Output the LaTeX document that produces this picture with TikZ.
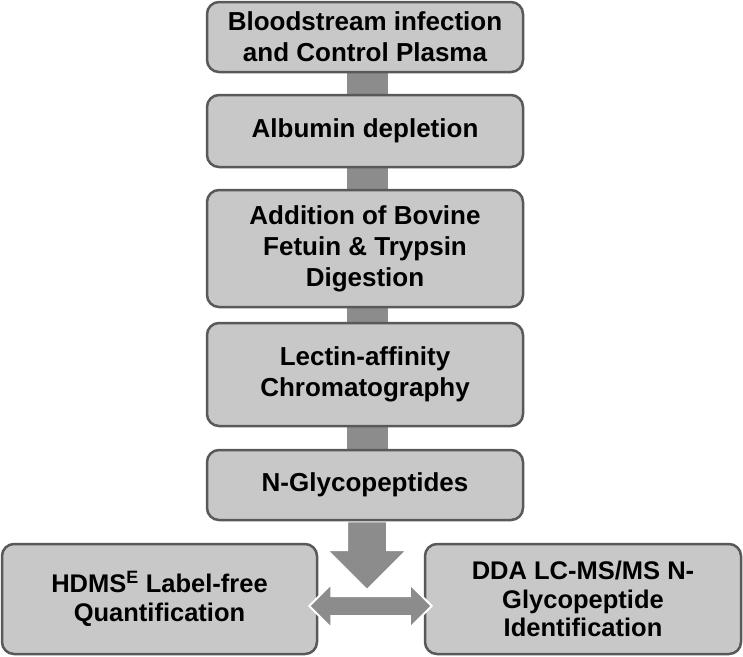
\documentclass[tikz,border=0pt]{standalone}
\usepackage{fontspec}
\setmainfont{Liberation Sans}
\usetikzlibrary{calc,
	positioning,
	backgrounds}
\definecolor{boxfill}{HTML}{C8C8C8}
\definecolor{boxline}{HTML}{595959}
\definecolor{flowgray}{HTML}{8C8C8C}

\begin{document}
\begin{tikzpicture}[x=1pt,y=-1pt,
	stage/.style={draw=boxline,fill=boxfill,line width=2.5pt,rounded corners=12pt,align=center,inner sep=0pt,minimum width=316pt,font=\fontsize{26}{31}\selectfont\bfseries},
	result/.style={stage,minimum height=110pt,font=\fontsize{25.5}{28.5}\selectfont\bfseries},
	bar/.style={flowgray,line width=41pt},
	flow/.style={fill=flowgray,draw=white,line width=2pt,line join=miter}]
	\useasboundingbox (0,0) rectangle (743,656);
	\node[stage,minimum height=70pt] (blood) at (365,37) {Bloodstream infection\\and Control Plasma};
	\node[stage,minimum height=72pt] (albumin) at (365,131) {Albumin depletion};
	\node[stage,minimum height=117pt] (fetuin) at (365,248.5) {Addition of Bovine\\Fetuin \& Trypsin\\Digestion};
	\node[stage,minimum height=103pt] (lectin) at (365,374.5) {Lectin-affinity\\Chromatography};
	\node[stage,minimum height=70pt] (glyco) at (365,485) {N-Glycopeptides};
	\node[result,minimum width=315pt] (hdms) at (159.5,599) {HDMS\textsuperscript{E} Label-free\\Quantification};
	\node[result] (dda) at (583,599) {DDA LC-MS/MS N-\\Glycopeptide\\Identification};
	\coordinate (split) at (367,590);
	\coordinate (qleft) at ($(hdms.east)+(-9,7)$);
	\coordinate (qright) at ($(dda.west)+(8,7)$);
	\begin{scope}[on background layer]
		\foreach \a/\b in {blood/albumin,albumin/fetuin,fetuin/lectin,lectin/glyco} {
			\draw[bar] ([xshift=2pt]\a.south) -- ([xshift=2pt]\b.north);
		}
		\filldraw[flow] ($(glyco.south)+(-18,0)$) -- ($(glyco.south)+(22,0)$) -- ($(split)+(20,-40)$) -- ($(split)+(40,-40)$) -- (split) -- ($(split)+(-40,-40)$) -- ($(split)+(-20,-40)$) -- cycle;
	\end{scope}
	\filldraw[flow] (qleft) -- ($(qleft)+(22,-22)$) -- ($(qleft)+(22,-10)$) -- ($(qright)+(-22,-10)$) -- ($(qright)+(-22,-22)$) -- (qright) -- ($(qright)+(-22,22)$) -- ($(qright)+(-22,10)$) -- ($(qleft)+(22,10)$) -- ($(qleft)+(22,22)$) -- cycle;
\end{tikzpicture}
\end{document}
